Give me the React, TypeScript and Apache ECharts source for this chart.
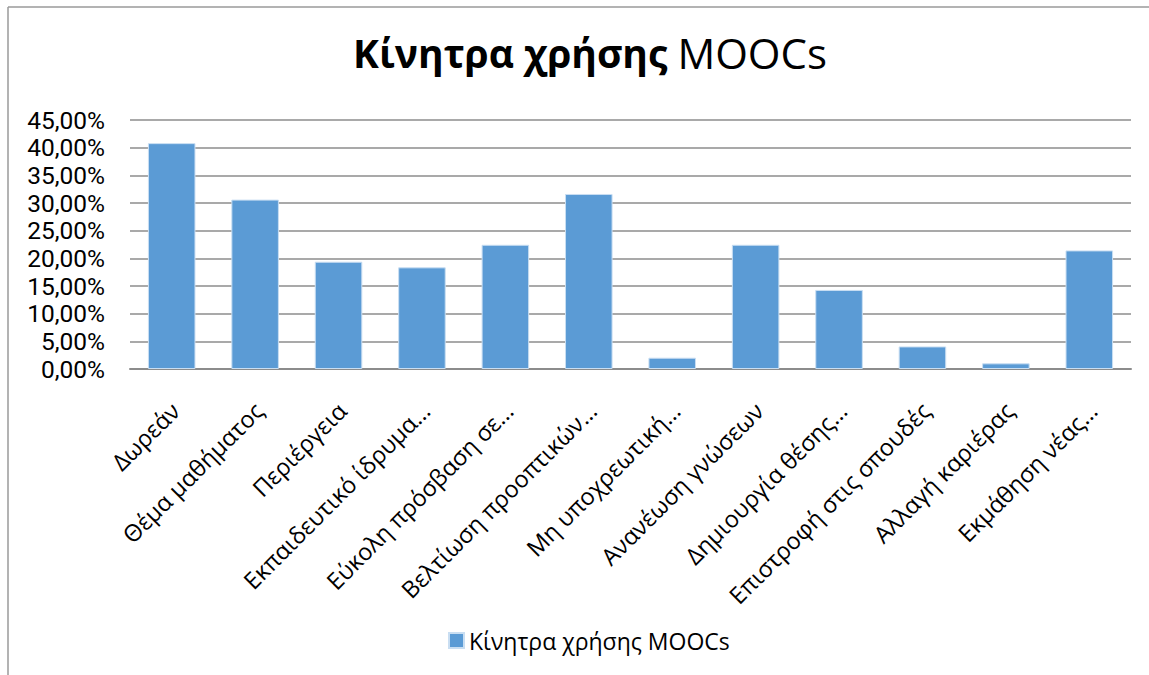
import React, { useEffect, useRef } from "react";
import * as echarts from "echarts";

const categories = [
  "Δωρεάν",
  "Θέμα μαθήματος",
  "Περιέργεια",
  "Εκπαιδευτικό ίδρυμα…",
  "Εύκολη πρόσβαση σε…",
  "Βελτίωση προοπτικών…",
  "Μη υποχρεωτική…",
  "Ανανέωση γνώσεων",
  "Δημιουργία θέσης…",
  "Επιστροφή στις σπουδές",
  "Αλλαγή καριέρας",
  "Εκμάθηση νέας…",
];

const values = [40.82, 30.61, 19.39, 18.37, 22.45, 31.63, 2.04, 22.45, 14.29, 4.08, 1.02, 21.43];

const seriesName = "Κίνητρα χρήσης MOOCs";
const titleBold = "Κίνητρα χρήσης";
const titleRegular = "MOOCs";

const FONT = "'Open Sans', 'Noto Sans', sans-serif";

export default function App() {
  const ref = useRef<HTMLDivElement>(null);

  useEffect(() => {
    if (!ref.current) return;
    const chart = echarts.init(ref.current, undefined, { renderer: "svg" });
    chart.setOption({
      animation: false,
      backgroundColor: "#ffffff",
      title: {
        text: `{b|${titleBold}}{s| }{n|${titleRegular}}`,
        left: 585,
        textAlign: "center",
        top: 26,
        textStyle: {
          rich: {
            b: { fontFamily: FONT, fontWeight: "bold", fontSize: 39, color: "#000" },
            s: { fontFamily: FONT, fontWeight: "normal", fontSize: 39, width: 10 },
            n: { fontFamily: FONT, fontWeight: "normal", fontSize: 42, color: "#000" },
          },
        },
      },
      legend: {
        top: 629,
        left: 448,
        padding: 0,
        icon: "rect",
        itemWidth: 15,
        itemHeight: 15,
        itemGap: 8,
        textStyle: { fontFamily: FONT, fontSize: 23, color: "#000" },
        data: [seriesName],
      },
      grid: { left: 130, right: 18, top: 120, bottom: 306, containLabel: false },
      xAxis: {
        type: "category",
        data: categories,
        axisLine: { lineStyle: { color: "#8c8c8c", width: 2 } },
        axisTick: { show: false },
        axisLabel: {
          interval: 0,
          rotate: 45,
          margin: 24,
          align: "right",
          verticalAlign: "top",
          padding: [0, 7, 0, 0],
          fontFamily: FONT,
          fontSize: 23.5,
          color: "#000",
        },
      },
      yAxis: {
        type: "value",
        min: 0,
        max: 45,
        interval: 5,
        axisLine: { show: false },
        axisTick: { show: false },
        axisLabel: {
          margin: 25,
          fontFamily: "Roboto, sans-serif",
          fontSize: 24.5,
          color: "#000",
          formatter: (v: number) => v.toFixed(2).replace(".", ",") + "%",
        },
        splitLine: { lineStyle: { color: "#8c8c8c", width: 1.5 } },
      },
      series: [
        {
          name: seriesName,
          type: "bar",
          data: values,
          barWidth: "57%",
          itemStyle: { color: "#5B9BD5", borderColor: "#c9def2", borderWidth: 1 },
        },
      ],
      graphic: [
        { type: "line", shape: { x1: 8, y1: 7, x2: 1149, y2: 7 }, style: { stroke: "#9a9a9a", lineWidth: 1.5 } },
        { type: "line", shape: { x1: 8, y1: 7, x2: 8, y2: 675 }, style: { stroke: "#9a9a9a", lineWidth: 1.5 } },
      ],
    });
    return () => chart.dispose();
  }, []);

  return (
    <div
      ref={ref}
      style={{ position: "fixed", left: 0, top: 0, width: 1149, height: 675 }}
    />
  );
}
